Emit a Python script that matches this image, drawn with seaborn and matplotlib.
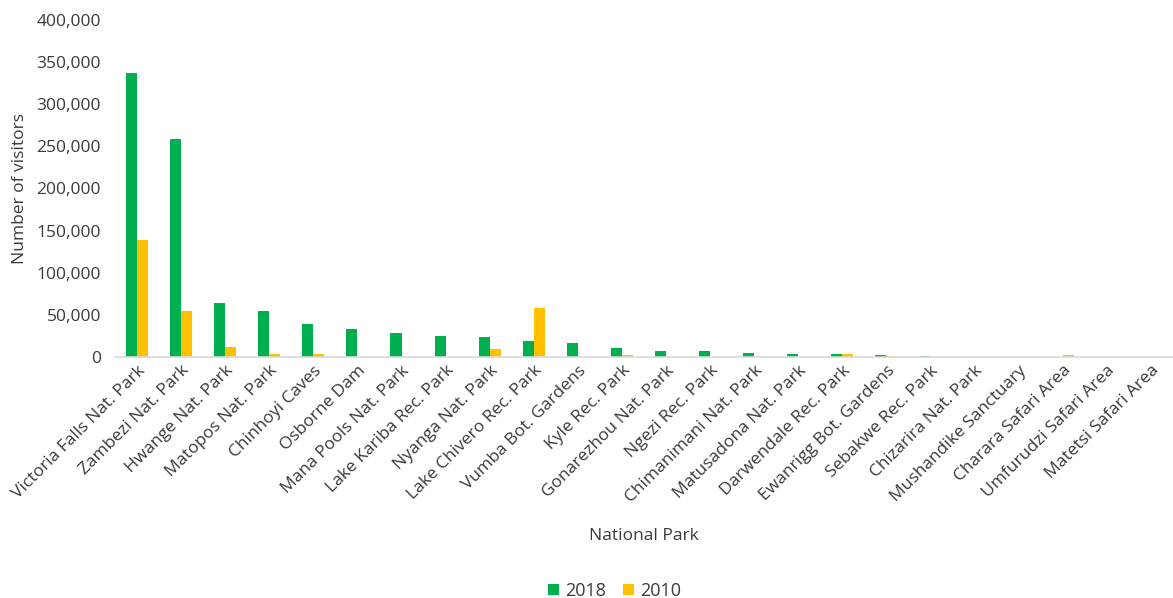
import numpy as np
import pandas as pd
import matplotlib
matplotlib.use("Agg")
import matplotlib.pyplot as plt
import seaborn as sns
from matplotlib.ticker import FuncFormatter
from matplotlib.patches import Patch

parks = [
    "Victoria Falls Nat. Park", "Zambezi Nat. Park", "Hwange Nat. Park",
    "Matopos Nat. Park", "Chinhoyi Caves", "Osborne Dam",
    "Mana Pools Nat. Park", "Lake Kariba Rec. Park", "Nyanga Nat. Park",
    "Lake Chivero Rec. Park", "Vumba Bot. Gardens", "Kyle Rec. Park",
    "Gonarezhou Nat. Park", "Ngezi Rec. Park", "Chimanimani Nat. Park",
    "Matusadona Nat. Park", "Darwendale Rec. Park", "Ewanrigg Bot. Gardens",
    "Sebakwe Rec. Park", "Chizarira Nat. Park", "Mushandike Sanctuary",
    "Charara Safari Area", "Umfurudzi Safari Area", "Matetsi Safari Area",
]
visitors_2018 = [337000, 258000, 64000, 54000, 39000, 33000,
                 28000, 25500, 24000, 19500, 17000, 11000,
                 7000, 7000, 5000, 3500, 3500, 2500,
                 1500, 0, 0, 0, 0, 0]
visitors_2010 = [139000, 55000, 12000, 4000, 4000, 0,
                 0, 0, 9500, 58000, 0, 2500,
                 0, 0, 0, 0, 3500, 1500,
                 0, 0, 0, 2500, 0, 0]
years = ["2018", "2010"]
colors = {"2018": "#00B050", "2010": "#FFC000"}

df = pd.DataFrame({
    "park": parks * 2,
    "year": [years[0]] * len(parks) + [years[1]] * len(parks),
    "visitors": visitors_2018 + visitors_2010,
})

sns.set_theme(style="white")
plt.rcParams["font.family"] = ["Open Sans", "DejaVu Sans"]
text_color = "#3a3a3a"

fig = plt.figure(figsize=(11.73, 5.98), dpi=100)
ax = fig.add_axes([0.098, 0.403, 0.902, 0.564])

sns.barplot(data=df, x="park", y="visitors", hue="year", hue_order=years,
            palette=colors, width=0.5, saturation=1, linewidth=0,
            ax=ax, legend=False)

ax.set_ylim(0, 400000)
ax.set_yticks(np.arange(0, 400001, 50000))
ax.yaxis.set_major_formatter(FuncFormatter(lambda v, p: f"{int(v):,}"))
ax.set_xlim(-0.5, len(parks) - 0.5)

for s in ["top", "right", "left"]:
    ax.spines[s].set_visible(False)
ax.spines["bottom"].set_color("#D9D9D9")
ax.spines["bottom"].set_linewidth(1.2)
ax.tick_params(axis="both", length=0, colors=text_color, labelsize=12.5)
ax.tick_params(axis="x", pad=4)
ax.tick_params(axis="y", pad=10)
plt.setp(ax.get_xticklabels(), rotation=45, ha="right", rotation_mode="anchor")

ax.set_xlabel("National Park", fontsize=12.5, color=text_color, labelpad=16)
ax.set_ylabel("Number of visitors", fontsize=12.5, color=text_color, labelpad=6)

handles = [Patch(facecolor=colors[y], edgecolor="none", label=y) for y in years]
fig.legend(handles=handles, loc="lower center", bbox_to_anchor=(0.524, -0.03),
           ncol=2, frameon=False, fontsize=13, labelcolor=text_color,
           handlelength=0.6, handleheight=0.6, handletextpad=0.35,
           columnspacing=0.9)

fig.savefig("out.png", dpi=100, facecolor="white")
